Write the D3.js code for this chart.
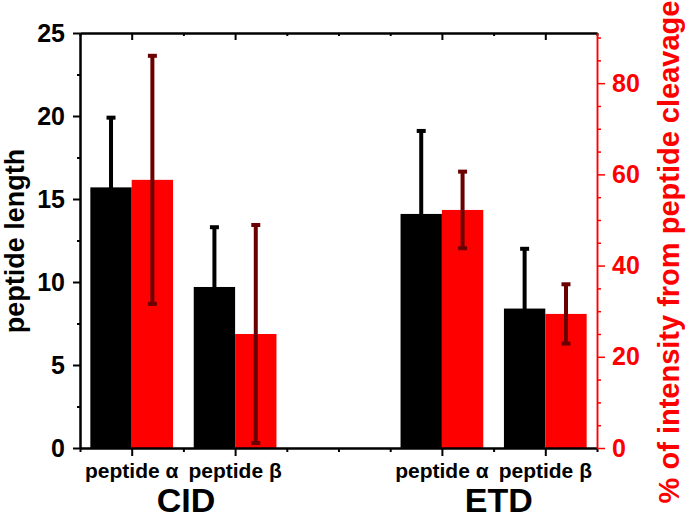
<!DOCTYPE html>
<html>
<head>
<meta charset="utf-8">
<script src="https://cdn.jsdelivr.net/npm/d3@7"></script>
<style>
  body { margin: 0; background: #fff; }
  svg text { font-family: "Liberation Sans", Arial, sans-serif; font-weight: bold; }
</style>
</head>
<body>
<svg id="chart" width="685" height="519"></svg>
<script>
// data
var catLabels = ["peptide α", "peptide β", "peptide α", "peptide β"];
var catPos = [1, 3, 7, 9];
var groupLabels = ["CID", "ETD"];
var groupPos = [2.05, 8.1];
var lengthMean = [15.7, 9.7, 14.1, 8.4];
var lengthErr = [4.2, 3.6, 5.0, 3.6];
var cleavMean = [58.8, 25.0, 52.2, 29.4];
var cleavErr = [27.2, 23.9, 8.4, 6.5];
var leftTicks = [0, 5, 10, 15, 20, 25];
var rightTicks = [0, 20, 40, 60, 80];

var svg = d3.select('#chart');
var margin = { top: 33, left: 80, bottom: 71, right: 88 };
var width = 685, height = 519;
var x0 = margin.left, x1 = width - margin.right;
var yTop = margin.top, yBot = height - margin.bottom;

var x = d3.scaleLinear().domain([0, 10]).range([x0, x1]);
var yL = d3.scaleLinear().domain([0, 25]).range([yBot, yTop]);
var yR = d3.scaleLinear().domain([0, 91]).range([yBot, yTop]);
var barW = 0.8;
var red = "#ff0000", darkRed = "#6b0000";

var rows = catPos.map(function (p, i) {
    return { pos: p, len: lengthMean[i], lenErr: lengthErr[i], cl: cleavMean[i], clErr: cleavErr[i] };
});

// black bars (peptide length, left axis)
svg.append("g").selectAll("rect")
    .data(rows).enter().append("rect")
    .attr("x", function (d) { return x(d.pos - barW); })
    .attr("width", function (d) { return x(d.pos) - x(d.pos - barW); })
    .attr("y", function (d) { return yL(d.len); })
    .attr("height", function (d) { return yBot - yL(d.len); })
    .attr("fill", "#000");

// red bars (% intensity, right axis)
svg.append("g").selectAll("rect")
    .data(rows).enter().append("rect")
    .attr("x", function (d) { return x(d.pos); })
    .attr("width", function (d) { return x(d.pos + barW) - x(d.pos); })
    .attr("y", function (d) { return yR(d.cl); })
    .attr("height", function (d) { return yBot - yR(d.cl); })
    .attr("fill", red);

// error bars
function errBars(cx, y, mean, err, col) {
    var g = svg.append("g").attr("stroke", col);
    rows.forEach(function (d) {
        var xc = x(cx(d)), lo = y(Math.max(0, mean(d) - err(d))), hi = y(mean(d) + err(d));
        g.append("line").attr("x1", xc).attr("x2", xc).attr("y1", lo).attr("y2", hi).attr("stroke-width", 4);
        [lo, hi].forEach(function (yy) {
            g.append("line").attr("x1", xc - 4.5).attr("x2", xc + 4.5)
                .attr("y1", yy).attr("y2", yy).attr("stroke-width", 4);
        });
    });
}
errBars(function (d) { return d.pos - barW / 2; }, yL,
    function (d) { return d.len; }, function (d) { return d.lenErr; }, "#000");
errBars(function (d) { return d.pos + barW / 2; }, yR,
    function (d) { return d.cl; }, function (d) { return d.clErr; }, darkRed);

// axes
function styleAxis(g, col, w) {
    g.select(".domain").attr("stroke", col).attr("stroke-width", w);
    g.selectAll(".tick line").attr("stroke", col).attr("stroke-width", w);
    g.selectAll("text").attr("fill", col);
}

var allX = d3.range(0, 11);
var minorX = allX.filter(function (v) { return catPos.indexOf(v) < 0; });

// bottom
var gb = svg.append("g").attr("transform", "translate(0," + yBot + ")")
    .call(d3.axisBottom(x).tickValues(minorX).tickSize(4).tickSizeOuter(0).tickFormat(""));
styleAxis(gb, "#000", 2);
var gb2 = svg.append("g").attr("transform", "translate(0," + yBot + ")")
    .call(d3.axisBottom(x).tickValues(catPos).tickSize(8).tickSizeOuter(0).tickFormat(""));
styleAxis(gb2, "#000", 2);

// top (ticks pointing inward)
var gt = svg.append("g").attr("transform", "translate(0," + yTop + ")")
    .call(d3.axisBottom(x).tickValues(minorX).tickSize(3).tickSizeOuter(0).tickFormat(""));
styleAxis(gt, "#000", 2);
var gt2 = svg.append("g").attr("transform", "translate(0," + yTop + ")")
    .call(d3.axisBottom(x).tickValues(catPos).tickSize(7).tickSizeOuter(0).tickFormat(""));
styleAxis(gt2, "#000", 2);

// left
var gl = svg.append("g").attr("transform", "translate(" + x0 + ",0)")
    .call(d3.axisLeft(yL).tickValues(d3.range(2.5, 25, 5)).tickSize(3).tickSizeOuter(0).tickFormat(""));
styleAxis(gl, "#000", 2);
var gl2 = svg.append("g").attr("transform", "translate(" + x0 + ",0)")
    .call(d3.axisLeft(yL).tickValues(leftTicks).tickSize(7).tickSizeOuter(0).tickPadding(8).tickFormat(d3.format("d")));
styleAxis(gl2, "#000", 2);
gl2.selectAll("text").style("font-size", "25px");

// right
var minorR = d3.range(0, 91, 5).filter(function (v) { return v % 20 !== 0; });
var gr = svg.append("g").attr("transform", "translate(" + x1 + ",0)")
    .call(d3.axisRight(yR).tickValues(minorR).tickSize(4).tickSizeOuter(0).tickFormat(""));
styleAxis(gr, red, 1.5);
var gr2 = svg.append("g").attr("transform", "translate(" + x1 + ",0)")
    .call(d3.axisRight(yR).tickValues(rightTicks).tickSize(8).tickSizeOuter(0).tickPadding(7).tickFormat(d3.format("d")));
styleAxis(gr2, red, 1.5);
gr2.selectAll("text").style("font-size", "25px");

// category labels
svg.append("g").selectAll("text")
    .data(catPos).enter().append("text")
    .attr("x", function (d) { return x(d); })
    .attr("y", 478)
    .attr("text-anchor", "middle")
    .style("font-size", "21px")
    .text(function (d, i) { return catLabels[i]; });

svg.append("g").selectAll("text")
    .data(groupPos).enter().append("text")
    .attr("x", function (d) { return x(d); })
    .attr("y", 512)
    .attr("text-anchor", "middle")
    .style("font-size", "34px")
    .text(function (d, i) { return groupLabels[i]; });

// axis titles
svg.append("text")
    .attr("transform", "translate(24,241) rotate(-90)")
    .attr("text-anchor", "middle")
    .style("font-size", "27px")
    .text("peptide length");

svg.append("text")
    .attr("transform", "translate(679,252) rotate(-90)")
    .attr("text-anchor", "middle")
    .attr("fill", red)
    .style("font-size", "29px")
    .text("% of intensity from peptide cleavage");
</script>
</body>
</html>
